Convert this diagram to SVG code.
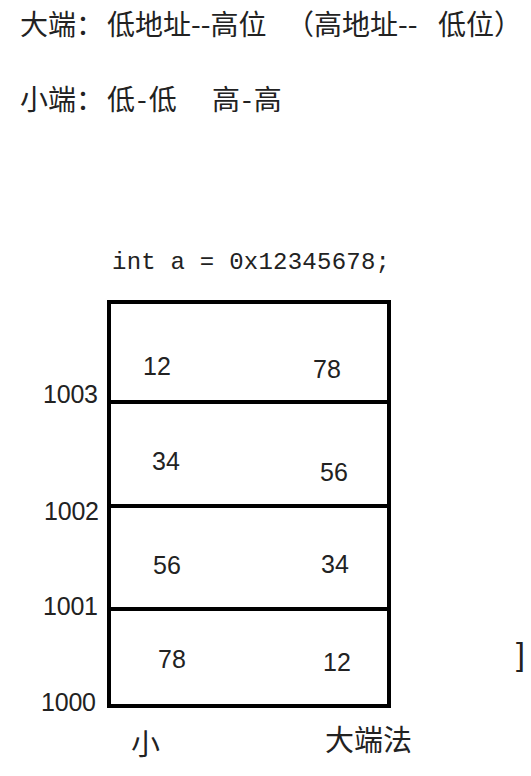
<svg xmlns="http://www.w3.org/2000/svg" width="531" height="776" viewBox="0 0 531 776">
<style>
.cjk{font-family:"Noto Sans CJK SC","Noto Sans",sans-serif;fill:#222;font-size:28px}
.num{font-family:"Liberation Sans","Noto Sans",sans-serif;fill:#222;font-size:25px}
.addr{font-family:"Liberation Sans","Noto Sans",sans-serif;fill:#222;font-size:25px}
.code{font-family:"Liberation Mono",monospace;fill:#222;font-size:24px}
.box{fill:none;stroke:#000;stroke-width:4}
</style>
<rect width="531" height="776" fill="#fff"/>
<g id="title">
<text class="cjk" y="35"><tspan x="20">大端：</tspan><tspan x="107">低地址--高位</tspan><tspan x="286">（高地址--</tspan><tspan x="438">低位）</tspan></text>
<text class="cjk" y="110"><tspan x="20">小端：</tspan><tspan x="107" letter-spacing="2">低-低</tspan><tspan x="212" letter-spacing="2">高-高</tspan></text>
<text class="code" x="112" y="269" textLength="278">int a = 0x12345678;</text>
</g>
<g id="memory-box">
<rect class="box" x="109" y="302" width="280" height="404"/>
</g>
<g id="connectors">
<line class="box" x1="109" y1="402" x2="389" y2="402"/>
<line class="box" x1="109" y1="506" x2="389" y2="506"/>
<line class="box" x1="109" y1="609" x2="389" y2="609"/>
</g>
<g id="cell-1003">
<text class="num" x="143" y="375">12</text>
<text class="num" x="313" y="378">78</text>
</g>
<g id="cell-1002">
<text class="num" x="152" y="470">34</text>
<text class="num" x="320" y="481">56</text>
</g>
<g id="cell-1001">
<text class="num" x="153" y="574">56</text>
<text class="num" x="321" y="573">34</text>
</g>
<g id="cell-1000">
<text class="num" x="158" y="668">78</text>
<text class="num" x="323" y="671">12</text>
</g>
<g id="addresses">
<text class="addr" x="43" y="403" textLength="55">1003</text>
<text class="addr" x="44" y="520" textLength="55">1002</text>
<text class="addr" x="43" y="615" textLength="55">1001</text>
<text class="addr" x="41" y="711" textLength="55">1000</text>
</g>
<g id="labels">
<text class="cjk" x="131" y="755" style="font-size:29px">小</text>
<text class="cjk" x="325" y="751" style="font-size:29px">大端法</text>
<text class="addr" x="516" y="665" style="font-size:32px">]</text>
</g>
</svg>
